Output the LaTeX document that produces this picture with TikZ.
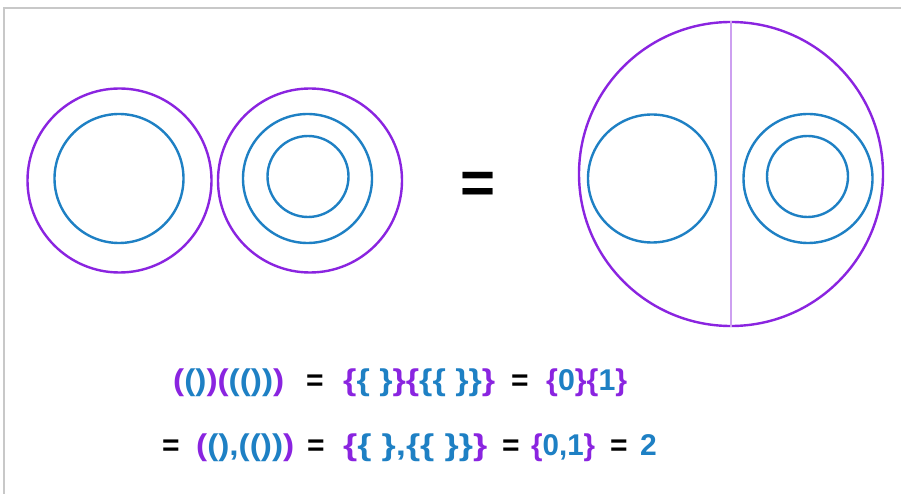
\documentclass[tikz,border=0pt]{standalone}
\usepackage{fontspec}
\usepackage{graphicx}
\setmainfont{Liberation Sans}
\definecolor{purp}{RGB}{138,36,224}
\definecolor{blu}{RGB}{30,128,196}
\definecolor{lightpurp}{RGB}{205,160,240}
\definecolor{framegray}{RGB}{200,200,200}
\newcommand{\pp}[1]{\textcolor{purp}{#1}}
\newcommand{\bb}[1]{\textcolor{blu}{#1}}
\newcommand{\fitw}[2]{\resizebox{#1pt}{\height}{#2}}
\begin{document}
\begin{tikzpicture}[x=1pt,y=-1pt,
  outerc/.style={draw=purp,line width=2.4pt},
  innerc/.style={draw=blu,line width=2.4pt},
  eqtext/.style={inner sep=0pt,anchor=base west,font=\fontsize{30}{30}\selectfont\bfseries}]
\useasboundingbox (0,0) rectangle (901,494);
\fill[white] (0,0) rectangle (901,494);
% frame
\draw[framegray,line width=1.5pt] (4,494) -- (4,8) -- (901,8);
% left pair
\node[outerc,circle,minimum size=184pt,inner sep=0pt] (o1) at (119.5,180.5) {};
\node[innerc,circle,minimum size=129pt,inner sep=0pt] (i1) at (119,178.5) {};
\node[outerc,circle,minimum size=184pt,inner sep=0pt] (o2) at (310,180.5) {};
\node[innerc,circle,minimum size=129pt,inner sep=0pt] (m2) at (307.5,178.5) {};
\node[innerc,circle,minimum size=81pt,inner sep=0pt] (s2) at (308,176.5) {};
% equals
\node[inner sep=0pt,font=\fontsize{60}{60}\selectfont\bfseries] (eq) at (478,188) {=};
% big circle
\node[outerc,circle,minimum size=304pt,inner sep=0pt] (big) at (731,174) {};
\draw[lightpurp,line width=1.5pt] (big.north) -- (big.south);
\node[innerc,circle,minimum size=128pt,inner sep=0pt] (bl) at (652,178.5) {};
\node[innerc,circle,minimum size=129pt,inner sep=0pt] (br) at (808,178.5) {};
\node[innerc,circle,minimum size=81pt,inner sep=0pt] (brs) at (807.5,176.5) {};
% line 1
\node[eqtext] (a1) at (173,390) {\fitw{111}{\pp{(}\bb{()}\pp{)}\pp{(}\bb{(())}\pp{)}}};
\node[eqtext] (a2) at (306,390) {=};
\node[eqtext] (a3) at (343,390) {\fitw{152}{\pp{\{}\bb{\{ \}}\pp{\}}\pp{\{}\bb{\{\{ \}\}}\pp{\}}}};
\node[eqtext] (a4) at (511,390) {=};
\node[eqtext] (a5) at (546,390) {\fitw{81}{\pp{\{}\bb{0}\pp{\}}\pp{\{}\bb{1}\pp{\}}}};
% line 2
\node[eqtext] (b1) at (162,455) {=};
\node[eqtext] (b2) at (196,455) {\fitw{98}{\pp{(}\bb{(),(())}\pp{)}}};
\node[eqtext] (b3) at (307,455) {=};
\node[eqtext] (b4) at (343,455) {\fitw{144}{\pp{\{}\bb{\{ \},\{\{ \}\}}\pp{\}}}};
\node[eqtext] (b5) at (502,455) {=};
\node[eqtext] (b6) at (531,455) {\fitw{64}{\pp{\{}\bb{0,1}\pp{\}}}};
\node[eqtext] (b7) at (610,455) {=};
\node[eqtext] (b8) at (640,455) {\bb{2}};
\end{tikzpicture}
\end{document}
